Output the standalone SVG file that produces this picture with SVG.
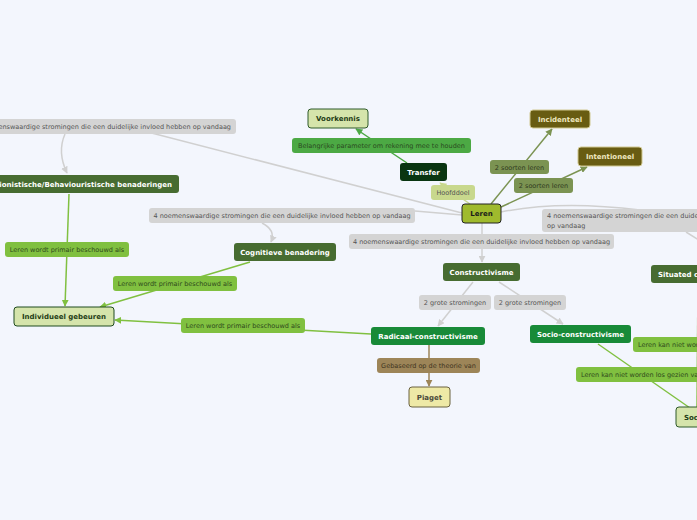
<svg xmlns="http://www.w3.org/2000/svg" width="697" height="520" viewBox="0 0 697 520">
<style>
.lb{font-family:"DejaVu Sans",Verdana,sans-serif;font-size:6.5px;text-anchor:middle}
.nt{font-family:"DejaVu Sans",Verdana,sans-serif;font-size:7px;font-weight:bold;text-anchor:middle}
.ln{fill:none;stroke-width:1.5}
.gray{stroke:#d0d0d0}
.grayb{fill:#d4d4d4}
.grayt{fill:#555}
.lw{fill:#80c040}
.lwt{fill:#2f4a1c}
.dk{fill:#476c31}
.wt{fill:#ffffff}
</style>
<defs>
<marker id="ag" viewBox="0 0 10 10" refX="9" refY="5" markerWidth="7" markerHeight="7" markerUnits="userSpaceOnUse" orient="auto"><path d="M0,0L10,5L0,10z" fill="#d0d0d0"/></marker>
<marker id="agr" viewBox="0 0 10 10" refX="9" refY="5" markerWidth="7" markerHeight="7" markerUnits="userSpaceOnUse" orient="auto"><path d="M0,0L10,5L0,10z" fill="#80c040"/></marker>
<marker id="agd" viewBox="0 0 10 10" refX="9" refY="5" markerWidth="7" markerHeight="7" markerUnits="userSpaceOnUse" orient="auto"><path d="M0,0L10,5L0,10z" fill="#4ca944"/></marker>
<marker id="aol" viewBox="0 0 10 10" refX="9" refY="5" markerWidth="7" markerHeight="7" markerUnits="userSpaceOnUse" orient="auto"><path d="M0,0L10,5L0,10z" fill="#7b9352"/></marker>
<marker id="ahf" viewBox="0 0 10 10" refX="9" refY="5" markerWidth="7" markerHeight="7" markerUnits="userSpaceOnUse" orient="auto"><path d="M0,0L10,5L0,10z" fill="#c8d88d"/></marker>
<marker id="abr" viewBox="0 0 10 10" refX="9" refY="5" markerWidth="7" markerHeight="7" markerUnits="userSpaceOnUse" orient="auto"><path d="M0,0L10,5L0,10z" fill="#9d8558"/></marker>
</defs>
<rect width="697" height="520" fill="#f3f6fd"/>
<g id="connectors">
<path class="ln gray" d="M462,213 L140,130"/>
<path class="ln gray" d="M65,134 Q57,152 67,173" marker-end="url(#ag)"/>
<path class="ln gray" d="M462,215 L415,211"/>
<path class="ln gray" d="M262,223 Q276,230 271,242" marker-end="url(#ag)"/>
<path class="ln gray" d="M482,223 L482,262" marker-end="url(#ag)"/>
<path class="ln gray" d="M501,212 Q560,200 640,210"/>
<path class="ln gray" d="M686,232 L699,240"/>
<path class="ln gray" d="M473,282 L438,326" marker-end="url(#ag)"/>
<path class="ln gray" d="M499,282 L563,324" marker-end="url(#ag)"/>
<path class="ln" stroke="#c8d88d" d="M470,204 L440,183" marker-end="url(#ahf)"/>
<path class="ln" stroke="#4ca944" d="M407,163 L356,129" marker-end="url(#agd)"/>
<path class="ln" stroke="#7b9352" d="M491,204 L552,129" marker-end="url(#aol)"/>
<path class="ln" stroke="#7b9352" d="M501,207 L587,167" marker-end="url(#aol)"/>
<path class="ln" stroke="#9d8558" d="M429,345 L429,386" marker-end="url(#abr)"/>
<path class="ln" stroke="#80c040" d="M371,334 L115,320" marker-end="url(#agr)"/>
<path class="ln" stroke="#80c040" d="M250,262 L100,307" marker-end="url(#agr)"/>
<path class="ln" stroke="#80c040" d="M69,194 L65,306" marker-end="url(#agr)"/>
<path class="ln" stroke="#80c040" d="M598,344 L690,408"/>
<path class="ln" stroke="#80c040" d="M698,283 L697,407"/>
</g>
<g id="labels">
<g><rect x="-40" y="119" width="276" height="15" rx="3" class="grayb"/><text x="231" y="129" class="lb grayt" style="text-anchor:end">4 noemenswaardige stromingen die een duidelijke invloed hebben op vandaag</text></g>
<g><rect x="149" y="208" width="266" height="15" rx="3" class="grayb"/><text x="282" y="218" class="lb grayt">4 noemenswaardige stromingen die een duidelijke invloed hebben op vandaag</text></g>
<g><rect x="349" y="234" width="265" height="15" rx="3" class="grayb"/><text x="481.5" y="244" class="lb grayt">4 noemenswaardige stromingen die een duidelijke invloed hebben op vandaag</text></g>
<g><rect x="542" y="209" width="170" height="23" rx="3" class="grayb"/><text x="547" y="218" class="lb grayt" style="text-anchor:start">4 noemenswaardige stromingen die een duidelijke invloed hebben</text><text x="547" y="228" class="lb grayt" style="text-anchor:start">op vandaag</text></g>
<g><rect x="292" y="138" width="179" height="15" rx="3" fill="#4ca944"/><text x="381.5" y="148" class="lb" fill="#2a4a20">Belangrijke parameter om rekening mee te houden</text></g>
<g><rect x="431" y="185" width="44" height="15" rx="3" fill="#c8d88d"/><text x="453" y="195" class="lb" fill="#555">Hoofddoel</text></g>
<g><rect x="490" y="160" width="59" height="14" rx="3" fill="#7b9352"/><text x="519.5" y="169.5" class="lb" fill="#2f3a20">2 soorten leren</text></g>
<g><rect x="514" y="178" width="59" height="15" rx="3" fill="#7b9352"/><text x="543.5" y="188" class="lb" fill="#2f3a20">2 soorten leren</text></g>
<g><rect x="5" y="242" width="124" height="15" rx="3" class="lw"/><text x="67" y="252" class="lb lwt">Leren wordt primair beschouwd als</text></g>
<g><rect x="113" y="276" width="124" height="15" rx="3" class="lw"/><text x="175" y="286" class="lb lwt">Leren wordt primair beschouwd als</text></g>
<g><rect x="181" y="318" width="124" height="15" rx="3" class="lw"/><text x="243" y="328" class="lb lwt">Leren wordt primair beschouwd als</text></g>
<g><rect x="419" y="295" width="72" height="15" rx="3" class="grayb"/><text x="455" y="305" class="lb grayt">2 grote stromingen</text></g>
<g><rect x="494" y="295" width="72" height="15" rx="3" class="grayb"/><text x="530" y="305" class="lb grayt">2 grote stromingen</text></g>
<g><rect x="377" y="358" width="103" height="15" rx="3" fill="#9d8558"/><text x="428.5" y="368" class="lb" fill="#3e3420">Gebaseerd op de theorie van</text></g>
<g><rect x="633" y="337" width="90" height="15" rx="3" class="lw"/><text x="638" y="347" class="lb lwt" style="text-anchor:start">Leren kan niet worden los gezien van de sociale context</text></g>
<g><rect x="576" y="367" width="140" height="15" rx="3" class="lw"/><text x="581" y="377" class="lb lwt" style="text-anchor:start">Leren kan niet worden los gezien van de sociale context</text></g>
</g>
<g id="n-leren"><rect x="462" y="204" width="39" height="19" rx="3" fill="#9fba2d" stroke="#222" stroke-width="1"/><text x="481.5" y="216" class="nt" fill="#1a1a1a">Leren</text></g>
<g id="n-transfer"><rect x="400" y="163" width="47" height="18" rx="3" fill="#093511"/><text x="423.5" y="174.5" class="nt wt">Transfer</text></g>
<g id="n-voorkennis"><rect x="308" y="109" width="60" height="19" rx="3" fill="#d5e4ab" stroke="#2f5a2a" stroke-width="1"/><text x="338" y="121" class="nt" fill="#1f3d16">Voorkennis</text></g>
<g id="n-incidenteel"><rect x="530" y="110" width="60" height="18" rx="3" fill="#685c12" stroke="#d0c890" stroke-width="1"/><text x="560" y="121.5" class="nt" fill="#efe8c0">Incidenteel</text></g>
<g id="n-intentioneel"><rect x="578" y="147" width="64" height="19" rx="3" fill="#685c12" stroke="#d0c890" stroke-width="1"/><text x="610" y="159" class="nt" fill="#efe8c0">Intentioneel</text></g>
<g id="n-constructivisme"><rect x="443" y="263" width="77" height="18" rx="3" class="dk"/><text x="481.5" y="274.5" class="nt wt">Constructivisme</text></g>
<g id="n-cognitieve"><rect x="234" y="243" width="102" height="18" rx="3" class="dk"/><text x="285" y="254.5" class="nt wt">Cognitieve benadering</text></g>
<g id="n-assoc"><rect x="-40" y="175" width="219" height="18" rx="3" class="dk"/><text x="172" y="186.5" class="nt wt" style="text-anchor:end">Associationistische/Behaviouristische benaderingen</text></g>
<g id="n-individueel"><rect x="14" y="307" width="100" height="19" rx="3" fill="#d5e4ab" stroke="#1e4a1e" stroke-width="1"/><text x="64" y="319" class="nt" fill="#1f3d16">Individueel gebeuren</text></g>
<g id="n-radicaal"><rect x="371" y="327" width="114" height="18" rx="3" fill="#188a38"/><text x="428" y="338.5" class="nt wt">Radicaal-constructivisme</text></g>
<g id="n-socio"><rect x="530" y="325" width="101" height="18" rx="3" fill="#188a38"/><text x="580.5" y="336.5" class="nt wt">Socio-constructivisme</text></g>
<g id="n-piaget"><rect x="409" y="387" width="41" height="20" rx="3" fill="#eee9a6" stroke="#6b6240" stroke-width="1"/><text x="429.5" y="399.5" class="nt" fill="#4a4a3a">Piaget</text></g>
<g id="n-situated"><rect x="651" y="265" width="80" height="18" rx="3" class="dk"/><text x="658" y="276.5" class="nt wt" style="text-anchor:start">Situated cognition</text></g>
<g id="n-sociaal"><rect x="676" y="407" width="80" height="20" rx="3" fill="#d5e4ab" stroke="#2f5a2a" stroke-width="1"/><text x="684" y="419.5" class="nt" fill="#1f3d16" style="text-anchor:start">Sociaal gebeuren</text></g>
</svg>
